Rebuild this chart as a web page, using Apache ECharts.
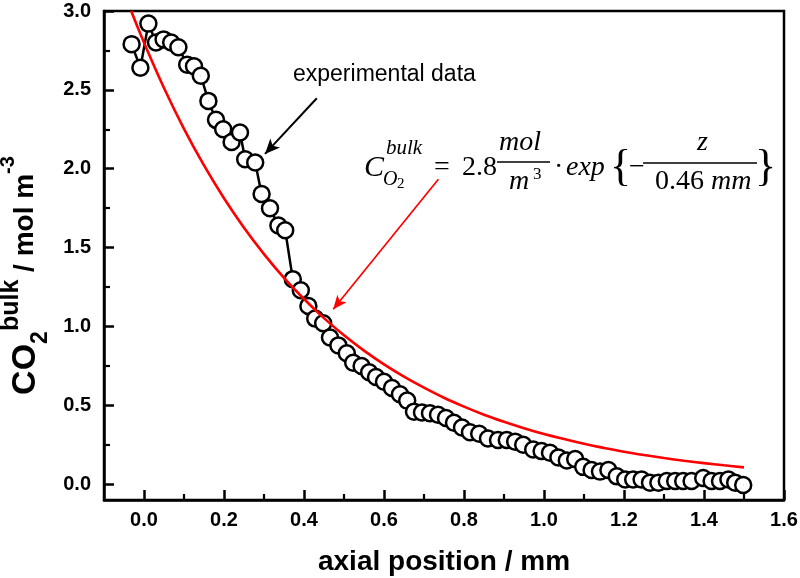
<!DOCTYPE html>
<html>
<head>
<meta charset="utf-8">
<script src="https://cdn.jsdelivr.net/npm/echarts@6/dist/echarts.min.js"></script>
<style>
  html, body { margin: 0; padding: 0; background: #fff; }
  #chart { width: 800px; height: 578px; }
</style>
</head>
<body>
<div id="chart"></div>
<script>
// Measured bulk CO2 concentration along the channel (mm, mol/m^3)
const positions = [
  -0.031, -0.009, 0.011, 0.030, 0.049, 0.068, 0.086, 0.108, 0.125, 0.142,
  0.161, 0.180, 0.198, 0.219, 0.240, 0.253, 0.278, 0.294, 0.315, 0.336,
  0.353, 0.372, 0.392, 0.411, 0.428, 0.448, 0.465, 0.486, 0.507, 0.523,
  0.544, 0.563, 0.580, 0.600, 0.620, 0.640, 0.658, 0.675, 0.695, 0.715,
  0.735, 0.755, 0.775, 0.795, 0.815, 0.838, 0.860, 0.885, 0.907, 0.928,
  0.948, 0.973, 0.994, 1.015, 1.036, 1.057, 1.078, 1.098, 1.119, 1.140,
  1.161, 1.182, 1.203, 1.223, 1.244, 1.265, 1.286, 1.307, 1.328, 1.348,
  1.369, 1.398, 1.419, 1.440, 1.461, 1.478, 1.498
];
const concentrations = [
  2.79, 2.64, 2.92, 2.80, 2.82, 2.80, 2.77, 2.66, 2.65, 2.59,
  2.43, 2.31, 2.25, 2.17, 2.23, 2.06, 2.04, 1.84, 1.75, 1.64,
  1.61, 1.30, 1.23, 1.13, 1.05, 1.02, 0.93, 0.88, 0.83, 0.77,
  0.75, 0.71, 0.68, 0.65, 0.61, 0.57, 0.53, 0.46, 0.455, 0.45,
  0.44, 0.42, 0.39, 0.36, 0.33, 0.32, 0.29, 0.28, 0.28, 0.27,
  0.25, 0.22, 0.21, 0.20, 0.17, 0.15, 0.16, 0.11, 0.09, 0.08,
  0.09, 0.05, 0.03, 0.03, 0.03, 0.01, 0.01, 0.02, 0.02, 0.02,
  0.02, 0.04, 0.02, 0.02, 0.03, 0.01, -0.005
];

// Exponential fit curve, tabulated
const fitPositions = [
  -0.032, 0, 0.05, 0.1, 0.15, 0.2, 0.25, 0.3, 0.35, 0.4, 0.45, 0.5,
  0.55, 0.6, 0.65, 0.7, 0.75, 0.8, 0.85, 0.9, 0.95, 1.0,
  1.05, 1.1, 1.15, 1.2, 1.25, 1.3, 1.35, 1.4, 1.45, 1.5
];
const fitValues = [
  3.0, 2.80, 2.512, 2.253, 2.021, 1.813, 1.626, 1.459, 1.308, 1.174, 1.053, 0.944,
  0.847, 0.760, 0.682, 0.612, 0.548, 0.492, 0.441, 0.396, 0.355, 0.318,
  0.286, 0.256, 0.230, 0.206, 0.185, 0.166, 0.149, 0.134, 0.120, 0.107
];

// Axis ticks
const xMajorTicks = [0, 0.2, 0.4, 0.6, 0.8, 1.0, 1.2, 1.4, 1.6];
const xMinorTicks = [0.1, 0.3, 0.5, 0.7, 0.9, 1.1, 1.3, 1.5];
const yMajorTicks = [0, 0.5, 1.0, 1.5, 2.0, 2.5, 3.0];
const yMinorTicks = [0.25, 0.75, 1.25, 1.75, 2.25, 2.75];

// Annotation arrows: [start, tip] in data units
const dataArrow = [[0.432, 2.447], [0.3025, 2.094]];
const fitArrow = [[0.736, 1.933], [0.473, 1.109]];

const SANS = "'Liberation Sans', Arial, Helvetica, sans-serif";
const SERIF = "'Liberation Serif', 'DejaVu Serif', serif";

const chart = echarts.init(document.getElementById('chart'), null, { renderer: 'canvas' });

const measured = positions.map((x, i) => [x, concentrations[i]]);
const fitted = fitPositions.map((x, i) => [x, fitValues[i]]);

// open circle with a small centre dot
const ringSymbol = 'path://M0,-10A10,10 0 1,1 0,10A10,10 0 1,1 0,-10Z M-0.05,0L0.05,0Z';

const axisLineStyle = { color: '#000', width: 2.5 };
const tickLabel = { color: '#000', fontFamily: SANS, fontWeight: 'bold', fontSize: 20 };

function mathText(text, x, baseline, size, italic) {
  return {
    type: 'text', x: x, y: baseline - size * 0.34, silent: true,
    style: {
      text: text, fill: '#000', fontFamily: SERIF, fontSize: size,
      fontStyle: italic ? 'italic' : 'normal', verticalAlign: 'middle', align: 'left'
    }
  };
}
function bar(x1, x2, y) {
  return { type: 'line', silent: true, shape: { x1: x1, y1: y, x2: x2, y2: y },
    style: { stroke: '#000', lineWidth: 1.4 } };
}

const titleFont = { fontFamily: SANS, fontWeight: 'bold', color: '#000' };

const option = {
  animation: false,
  backgroundColor: '#fff',
  grid: {
    left: 104, right: 16, top: 11, bottom: 78,
    containLabel: false, outerBoundsMode: 'none',
    show: true, borderColor: '#000', borderWidth: 2.5
  },
  xAxis: [
    {
      type: 'value', min: -0.1, max: 1.6, position: 'bottom',
      axisLine: { show: true, onZero: false, lineStyle: axisLineStyle },
      axisTick: { show: true, inside: true, length: 10, lineStyle: axisLineStyle, customValues: xMajorTicks },
      axisLabel: Object.assign({ customValues: xMajorTicks, margin: 10, formatter: v => v.toFixed(1) }, tickLabel),
      splitLine: { show: false },
      name: 'axial position / mm', nameLocation: 'middle', nameGap: 48,
      nameTextStyle: { color: '#000', fontFamily: SANS, fontWeight: 'bold', fontSize: 28 }
    },
    {
      type: 'value', min: -0.1, max: 1.6, position: 'bottom',
      axisLine: { show: false, onZero: false },
      axisTick: { show: true, inside: true, length: 6, lineStyle: { color: '#000', width: 2.2 }, customValues: xMinorTicks },
      axisLabel: { show: false }, splitLine: { show: false }
    }
  ],
  yAxis: [
    {
      type: 'value', min: -0.1, max: 3.0, position: 'left',
      axisLine: { show: true, onZero: false, lineStyle: axisLineStyle },
      axisTick: { show: true, inside: true, length: 10, lineStyle: axisLineStyle, customValues: yMajorTicks },
      axisLabel: Object.assign({ customValues: yMajorTicks, margin: 13, formatter: v => v.toFixed(1) }, tickLabel),
      splitLine: { show: false },
      name: '{c|CO}{sub|2}{sup|bulk}{u| / mol m}{sup2|-3}{pad| }',
      nameLocation: 'middle', nameRotate: 90, nameGap: 30,
      nameTextStyle: {
        color: '#000', fontFamily: SANS, fontWeight: 'bold',
        rich: {
          c: Object.assign({ fontSize: 34, lineHeight: 54, verticalAlign: 'middle' }, titleFont),
          sub: Object.assign({ fontSize: 23, lineHeight: 23, verticalAlign: 'bottom' }, titleFont),
          sup: Object.assign({ fontSize: 25, lineHeight: 25, verticalAlign: 'top' }, titleFont),
          u: Object.assign({ fontSize: 28, lineHeight: 28, verticalAlign: 'middle' }, titleFont),
          sup2: Object.assign({ fontSize: 20, lineHeight: 20, verticalAlign: 'top' }, titleFont),
          pad: Object.assign({ fontSize: 10, width: 40, lineHeight: 10 }, titleFont)
        }
      }
    },
    {
      type: 'value', min: -0.1, max: 3.0, position: 'left',
      axisLine: { show: false, onZero: false },
      axisTick: { show: true, inside: true, length: 6, lineStyle: { color: '#000', width: 2.2 }, customValues: yMinorTicks },
      axisLabel: { show: false }, splitLine: { show: false }
    }
  ],
  series: [
    {
      name: 'experimental data', type: 'line', xAxisIndex: 0, yAxisIndex: 0,
      data: measured,
      symbol: ringSymbol, symbolSize: 16, showAllSymbol: true,
      itemStyle: { color: '#fff', borderColor: '#000', borderWidth: 2.5 },
      lineStyle: { color: '#000', width: 2.5 },
      emphasis: { disabled: true }, silent: true, z: 2,
      markLine: {
        silent: true, symbol: ['none', 'arrow'], symbolSize: [10, 15],
        label: { show: false },
        lineStyle: { color: '#000', width: 2, type: 'solid' },
        data: [[{ coord: dataArrow[0] }, { coord: dataArrow[1] }]]
      }
    },
    {
      name: 'fit', type: 'line', xAxisIndex: 0, yAxisIndex: 0,
      data: fitted, smooth: 0.4,
      showSymbol: false, symbol: 'none', clip: true,
      lineStyle: { color: '#ff0000', width: 2.6 },
      emphasis: { disabled: true }, silent: true, z: 3,
      markLine: {
        silent: true, symbol: ['none', 'arrow'], symbolSize: [9, 14],
        label: { show: false },
        lineStyle: { color: '#ff0000', width: 1.7, type: 'solid' },
        data: [[{ coord: fitArrow[0] }, { coord: fitArrow[1] }]]
      }
    }
  ],
  graphic: [
    {
      type: 'text', x: 293, y: 75, silent: true,
      style: { text: 'experimental data', fill: '#000', fontFamily: SANS,
        fontSize: 23, verticalAlign: 'middle', align: 'left' }
    },
    mathText('C', 364, 178, 30, true),
    mathText('bulk', 386, 156, 21, true),
    mathText('O', 383, 187, 20, true),
    mathText('2', 397, 189, 15, false),
    mathText('=', 434, 177, 28, false),
    mathText('2.8', 462, 177, 28, false),
    mathText('mol', 499, 152, 28, true),
    bar(497, 550, 162),
    mathText('m', 509, 191, 28, true),
    mathText('3', 533, 180, 17, false),
    mathText('\u00b7', 554, 177, 28, false),
    mathText('exp', 566, 177, 28, true),
    mathText('{', 610, 183, 44, false),
    mathText('\u2212', 629, 177, 28, false),
    bar(643, 757, 163),
    mathText('z', 697, 152, 28, true),
    mathText('0.46', 655, 191, 28, false),
    mathText('mm', 711, 191, 28, true),
    mathText('}', 755, 183, 44, false)
  ]
};

chart.setOption(option);
</script>
</body>
</html>
